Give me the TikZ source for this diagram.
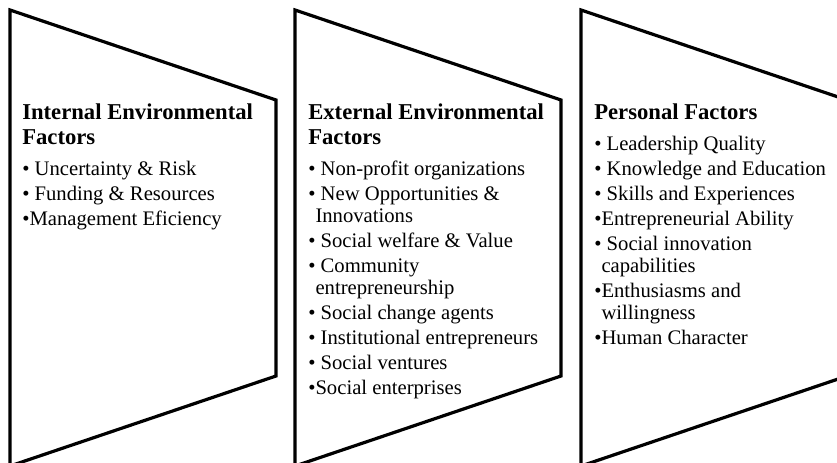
\documentclass[tikz,border=0pt]{standalone}
\usepackage{fontspec}
\setmainfont{Liberation Serif}
\usetikzlibrary{positioning}

\tikzset{
  factorshape/.style={draw, line width=2.4pt, line join=miter},
  factortext/.style={anchor=north west, align=left, inner sep=0pt,
    font=\fontsize{15.5}{18.75}\selectfont},
}
\newcommand{\toprow}{\rule{0pt}{12.5pt}}
\newcommand{\headline}[1]{{\fontsize{17}{18.75}\selectfont\bfseries #1}}
\newcommand{\wrapline}{\\[-2.25pt]\hphantom{\textbullet}}

\begin{document}
\begin{tikzpicture}[x=0.75pt,y=-0.75pt]
    \useasboundingbox (0,0) rectangle (837,463);
    \clip (0,0) rectangle (837,463);
    \foreach \x in {10,295,581}{% Three arrow blocks side by side
        \draw [factorshape] (\x,10) -- (\x+266,100) -- (\x+266,376) -- (\x,466) -- cycle;
    }
    \node [factortext] (internal) at (22,102.5) {%
        \toprow\headline{Internal Environmental}\\\headline{Factors}\\[4.5pt]
        \textbullet\ Uncertainty \& Risk\\
        \textbullet\ Funding \& Resources\\
        \textbullet Management Eficiency};
    \node [factortext] (external) at (308,102.5) {%
        \toprow\headline{External Environmental}\\\headline{Factors}\\[4.5pt]
        \textbullet\ Non-profit organizations\\
        \textbullet\ New Opportunities \&\wrapline Innovations\\
        \textbullet\ Social welfare \& Value\\
        \textbullet\ Community\wrapline entrepreneurship\\
        \textbullet\ Social change agents\\
        \textbullet\ Institutional entrepreneurs\\
        \textbullet\ Social ventures\\
        \textbullet Social enterprises};
    \node [factortext] (personal) at (594,102.5) {%
        \toprow\headline{Personal Factors}\\[4.5pt]
        \textbullet\ Leadership Quality\\
        \textbullet\ Knowledge and Education\\
        \textbullet\ Skills and Experiences\\
        \textbullet Entrepreneurial Ability\\
        \textbullet\ Social innovation\wrapline capabilities\\
        \textbullet Enthusiasms and\wrapline willingness\\
        \textbullet Human Character};
\end{tikzpicture}
\end{document}
